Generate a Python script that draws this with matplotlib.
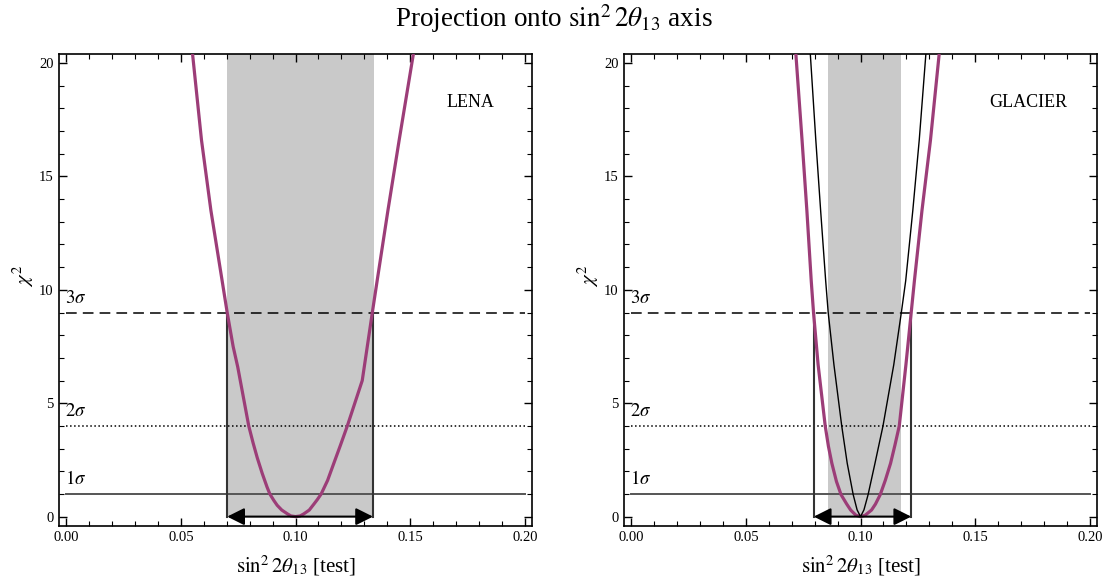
import numpy as np
import matplotlib
matplotlib.use("Agg")
import matplotlib.pyplot as plt

plt.rcParams['font.family'] = ['Liberation Serif', 'DejaVu Serif']
plt.rcParams['mathtext.fontset'] = 'stix'

# LENA chi^2 projection
lena_x = [0.0551, 0.0590, 0.0631, 0.0680, 0.0702, 0.0728, 0.0748, 0.0772, 0.0796,
          0.0815, 0.0833, 0.0855, 0.0876, 0.0888, 0.0905, 0.0920, 0.0940, 0.0965,
          0.0980, 0.1000, 0.1020, 0.1036, 0.1060, 0.1080, 0.1095, 0.1112, 0.1140,
          0.1167, 0.1196, 0.1226, 0.1291, 0.1335, 0.1356, 0.1403, 0.1452, 0.1514]
lena_chi2 = [20.4, 16.6, 13.5, 10.4, 9.0, 7.5, 6.6, 5.3, 4.0,
             3.25, 2.6, 1.9, 1.3, 1.0, 0.72, 0.5, 0.29, 0.12,
             0.03, 0.0, 0.03, 0.12, 0.29, 0.55, 0.75, 1.0, 1.6,
             2.35, 3.15, 4.0, 6.0, 9.0, 10.4, 13.5, 16.6, 20.4]

# GLACIER, two curves
glacier_x = [0.0718, 0.0745, 0.0766, 0.0785, 0.0795, 0.0815, 0.0846, 0.0860, 0.0875,
             0.0895, 0.0915, 0.0940, 0.0957, 0.0980, 0.1000, 0.1020, 0.1048, 0.1065,
             0.1086, 0.1108, 0.1131, 0.1150, 0.1169, 0.1198, 0.1221, 0.1235, 0.1268,
             0.1305, 0.1343]
glacier_chi2 = [20.4, 16.6, 13.5, 10.4, 9.0, 6.7, 4.0, 3.1, 2.35,
                1.55, 0.97, 0.55, 0.29, 0.06, 0.0, 0.06, 0.29, 0.55,
                0.97, 1.6, 2.35, 3.15, 4.0, 6.7, 9.0, 10.4, 13.5,
                16.6, 20.4]
glacier2_x = [0.0781, 0.0805, 0.0826, 0.0848, 0.0859, 0.0884, 0.0918, 0.0942, 0.0968,
              0.0985, 0.1000, 0.1015, 0.1033, 0.1063, 0.1098, 0.1145, 0.1178, 0.1197,
              0.1228, 0.1256, 0.1285]
glacier2_chi2 = [20.4, 16.6, 13.5, 10.4, 9.0, 6.7, 4.0, 2.35, 0.97,
                 0.3, 0.0, 0.3, 0.97, 2.35, 4.0, 6.7, 9.0, 10.4,
                 13.5, 16.6, 20.4]

# shaded bands and 3 sigma intervals
lena_band = [0.0701, 0.1343]
lena_interval = [0.0702, 0.1338]
glacier_band = [0.0857, 0.1178]
glacier_interval = [0.0796, 0.1221]

sigma_levels = [1, 4, 9]
sigma_labels = [r'$1\sigma$', r'$2\sigma$', r'$3\sigma$']
sigma_styles = ['-', ':', (0, (7, 4))]
sigma_colors = ['#555555', 'black', 'black']

purple = '#9c3d78'
shade = '#c9c9c9'

fig = plt.figure(figsize=(11.07, 5.83), dpi=100)
ax1 = fig.add_axes([0.0536, 0.0983, 0.4267, 0.8091])
ax2 = fig.add_axes([0.564, 0.0983, 0.4267, 0.8091])


def panel(ax, band, interval, name, name_x):
    ax.axvspan(band[0], band[1], ymin=0.4 / 20.8, ymax=1, color=shade, lw=0, zorder=0)
    for lev, lab, ls, c in zip(sigma_levels, sigma_labels, sigma_styles, sigma_colors):
        ax.plot([0, 0.2], [lev, lev], ls=ls, color=c, lw=1.4 if lev == 1 else 1.1, zorder=2)
        ax.text(-0.0005, lev + 0.25, lab, fontsize=13.5, ha='left', va='bottom')
    for xv in interval:
        ax.plot([xv, xv], [0, 9], color='#333333', lw=1.5, zorder=3)
    ax.annotate('', xy=(interval[1], 0), xytext=(interval[0], 0),
                arrowprops=dict(arrowstyle='<|-|>', color='black', lw=1.5,
                                mutation_scale=26, shrinkA=0, shrinkB=0), zorder=5)
    ax.text(name_x, 18.25, name, fontsize=13, ha='center', va='center')
    ax.set_xlim(-0.003, 0.203)
    ax.set_ylim(-0.4, 20.4)
    ax.set_xticks([0, 0.05, 0.10, 0.15, 0.20])
    ax.set_xticklabels(['0.00', '0.05', '0.10', '0.15', '0.20'])
    ax.set_xticks(np.arange(0, 0.2001, 0.01), minor=True)
    ax.set_yticks([0, 5, 10, 15, 20])
    ax.set_yticks(np.arange(0, 21, 1), minor=True)
    ax.tick_params(which='both', direction='in', top=True, right=True, labelsize=10.5)
    ax.tick_params(which='major', length=6, width=1, pad=4)
    ax.tick_params(which='minor', length=3.5, width=0.8)
    for s in ax.spines.values():
        s.set_linewidth(1.2)
    ax.set_xlabel(r'$\sin^2 2\theta_{13}$ [test]', fontsize=15, labelpad=7)
    ax.set_ylabel(r'$\chi^2$', fontsize=15)
    ax.yaxis.set_label_coords(-0.05, 0.53)


panel(ax1, lena_band, lena_interval, 'LENA', 0.1764)
ax1.plot(lena_x, lena_chi2, color=purple, lw=2.3, zorder=4)

panel(ax2, glacier_band, glacier_interval, 'GLACIER', 0.173)
ax2.plot(glacier_x, glacier_chi2, color=purple, lw=2.3, zorder=4)
ax2.plot(glacier2_x, glacier2_chi2, color='black', lw=1.0, zorder=4)

fig.text(0.5, 0.969, r'Projection onto $\sin^2 2\theta_{13}$ axis', fontsize=19.5,
         ha='center', va='center')

fig.savefig('out.png', dpi=100)
